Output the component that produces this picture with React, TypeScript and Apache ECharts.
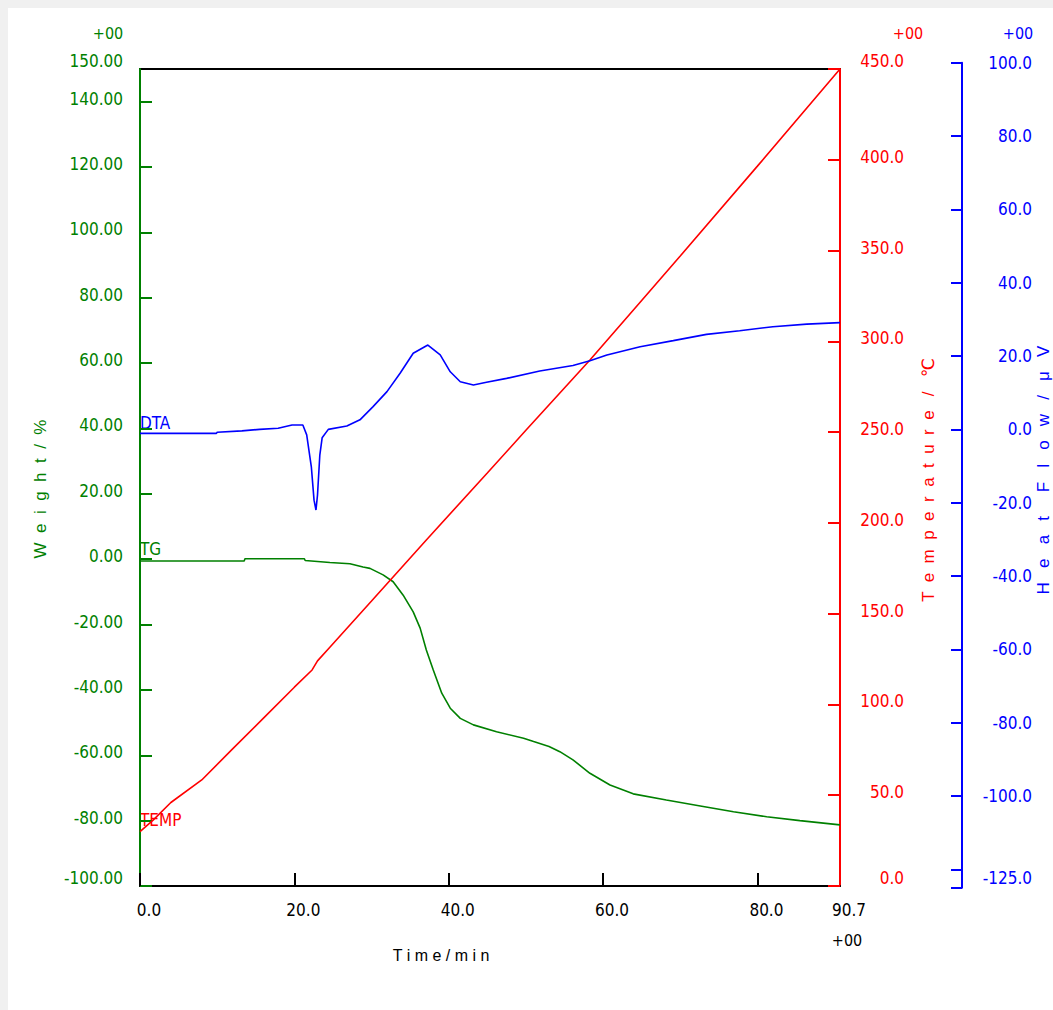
import React, { useEffect, useRef } from "react";
import * as echarts from "echarts";

// ---- Data ----
const TG_TIME = [0, 13.5, 13.6, 21.3, 21.4, 24.6, 27.2, 28.9, 29.8, 31.5, 32.8, 34.1, 35.4, 36.3, 37.1, 38.0, 39.1, 40.2, 41.5, 43.2, 46.2, 49.7, 51.0, 53.0, 54.4, 56.1, 58.3, 60.9, 63.9, 68.2, 72.6, 76.9, 81.2, 85.5, 90.7];
const TG_WEIGHT = [-0.55, -0.55, 0.15, 0.15, -0.4, -1.0, -1.4, -2.4, -2.8, -4.8, -6.9, -11.0, -16.1, -21.1, -27.8, -33.9, -41.0, -45.6, -48.7, -50.7, -52.8, -54.8, -55.8, -57.3, -58.9, -61.4, -65.5, -69.1, -71.8, -73.7, -75.5, -77.3, -78.8, -80.0, -81.3];

const TEMP_TIME = [0, 1.7, 4, 8, 12, 16, 20, 22.3, 23.0, 24.6, 30, 37.1, 45, 50, 58.3, 65, 70, 80, 90.7];
const TEMP_VALUE = [30, 36.3, 46, 58.4, 75.5, 92.5, 109.5, 119, 124, 131.5, 157, 190.6, 227.5, 251, 289.7, 322.5, 347, 396.5, 450];

const DTA_TIME = [0, 9.9, 10.0, 13.2, 15.5, 17.9, 19.7, 21.1, 21.6, 22.2, 22.55, 22.8, 23.0, 23.3, 23.6, 24.4, 26.8, 28.5, 30.2, 32.0, 33.7, 35.4, 37.3, 38.9, 40.2, 41.5, 43.2, 44.9, 47.5, 51.8, 56.1, 58.3, 60.5, 64.8, 69.1, 73.4, 77.7, 82.0, 86.4, 90.7];
const DTA_VALUE = [-1.1, -1.1, -0.8, -0.4, 0.0, 0.3, 1.2, 1.2, -1.5, -10.2, -19.3, -22.0, -17.9, -7.0, -2.3, 0.0, 0.9, 2.6, 6.2, 10.3, 15.3, 20.75, 23.0, 20.3, 15.7, 13.0, 12.1, 12.85, 13.9, 15.9, 17.4, 18.7, 20.3, 22.55, 24.2, 25.9, 26.9, 28.0, 28.7, 29.1];

const X_TICKS = [0, 20, 40, 60, 80];
const X_LABELS = [0, 20, 40, 60, 80, 90.7];
const WEIGHT_TICKS = [-100, -80, -60, -40, -20, 0, 20, 40, 60, 80, 100, 120, 140];
const WEIGHT_LABELS = [-100, -80, -60, -40, -20, 0, 20, 40, 60, 80, 100, 120, 140, 150];
const TEMP_TICKS = [0, 50, 100, 150, 200, 250, 300, 350, 400, 450];
const HF_TICKS = [-125, -120, -100, -80, -60, -40, -20, 0, 20, 40, 60, 80, 100];
const HF_LABELS = [-125, -100, -80, -60, -40, -20, 0, 20, 40, 60, 80, 100];

const GREEN = "#008000";
const RED = "#ff0000";
const BLUE = "#0000ff";
const FONT = "'DejaVu Sans Condensed', 'Liberation Sans', sans-serif";
const TITLE_FONT = "'Liberation Sans', 'DejaVu Sans', sans-serif";
const FS = 17;

const zip = (a: number[], b: number[]) => a.map((x, i) => [x, b[i]]);

function richFor(color: string) {
  return {
    n: { color, fontSize: FS, fontFamily: FONT, padding: [0, 0, 6, 0] },
    c: { color, fontSize: FS, fontFamily: FONT },
    e: { color, fontSize: FS, fontFamily: FONT, padding: [0, 0, 17, 0] },
    b: { color, fontSize: FS, fontFamily: FONT, padding: [0, 0, 20, 0] },
  };
}

export default function App() {
  const ref = useRef<HTMLDivElement>(null);

  useEffect(() => {
    document.body.style.margin = "0";
    document.body.style.overflow = "hidden";
    document.documentElement.style.overflow = "hidden";
    if (!ref.current) return;
    const chart = echarts.init(ref.current, null, { renderer: "svg" });

    const option: any = {
      animation: false,
      backgroundColor: "#ffffff",
      grid: [
        { left: 132, top: 61, width: 700, height: 817, show: true, borderColor: "#000", borderWidth: 2, backgroundColor: "transparent" },
        { left: 132, top: 54.7, width: 700, height: 825 },
      ],
      xAxis: [
        {
          type: "value",
          gridIndex: 0,
          min: 0,
          max: 90.7,
          axisLine: { show: true, onZero: false, lineStyle: { color: "#000", width: 2 } },
          axisTick: { show: true, inside: true, length: 13, customValues: X_TICKS, lineStyle: { color: "#000", width: 2 } },
          axisLabel: {
            customValues: X_LABELS,
            margin: 15,
            color: "#000",
            fontSize: FS,
            fontFamily: FONT,
            padding: [0, 0, 0, 18],
            formatter: (v: number) => v.toFixed(1),
          },
          splitLine: { show: false },
        },
        { type: "value", gridIndex: 1, min: 0, max: 90.7, show: false },
      ],
      yAxis: [
        {
          type: "value",
          gridIndex: 0,
          position: "left",
          min: -100,
          max: 150,
          axisLine: { show: true, onZero: false, lineStyle: { color: GREEN, width: 2 } },
          axisTick: { show: true, inside: true, length: 12, customValues: WEIGHT_TICKS, lineStyle: { color: GREEN, width: 2 } },
          axisLabel: {
            customValues: WEIGHT_LABELS,
            margin: 17,
            color: GREEN,
            fontSize: FS,
            fontFamily: FONT,
            formatter: (v: number) => (v === 150 || v === -100 ? `{e|${v.toFixed(2)}}` : `{n|${v.toFixed(2)}}`),
            rich: richFor(GREEN),
          },
          splitLine: { show: false },
        },
        {
          type: "value",
          gridIndex: 0,
          position: "right",
          min: 0,
          max: 450,
          axisLine: { show: true, onZero: false, lineStyle: { color: RED, width: 2 } },
          axisTick: { show: true, inside: true, length: 12, customValues: TEMP_TICKS, lineStyle: { color: RED, width: 2 } },
          axisLabel: {
            customValues: TEMP_TICKS,
            margin: 64,
            align: "right",
            color: RED,
            fontSize: FS,
            fontFamily: FONT,
            formatter: (v: number) => (v === 450 || v === 0 ? `{e|${v.toFixed(1)}}` : `{n|${v.toFixed(1)}}`),
            rich: richFor(RED),
          },
          splitLine: { show: false },
        },
        {
          type: "value",
          gridIndex: 1,
          position: "right",
          offset: 122,
          min: -125,
          max: 100,
          axisLine: { show: true, onZero: false, lineStyle: { color: BLUE, width: 2 } },
          axisTick: { show: true, inside: true, length: 11, customValues: HF_TICKS, lineStyle: { color: BLUE, width: 2 } },
          axisLabel: {
            customValues: HF_LABELS,
            margin: 70,
            align: "right",
            color: BLUE,
            fontSize: FS,
            fontFamily: FONT,
            formatter: (v: number) => (v === -125 ? `{b|${v.toFixed(1)}}` : `{c|${v.toFixed(1)}}`),
            rich: richFor(BLUE),
          },
          splitLine: { show: false },
        },
      ],
      series: [
        {
          name: "TG",
          type: "line",
          xAxisIndex: 0,
          yAxisIndex: 0,
          data: zip(TG_TIME, TG_WEIGHT),
          showSymbol: false,
          lineStyle: { color: GREEN, width: 1.6 },
          itemStyle: { color: GREEN },
        },
        {
          name: "TEMP",
          type: "line",
          xAxisIndex: 0,
          yAxisIndex: 1,
          data: zip(TEMP_TIME, TEMP_VALUE),
          showSymbol: false,
          lineStyle: { color: RED, width: 1.6 },
          itemStyle: { color: RED },
        },
        {
          name: "DTA",
          type: "line",
          xAxisIndex: 1,
          yAxisIndex: 2,
          data: zip(DTA_TIME, DTA_VALUE),
          showSymbol: false,
          lineStyle: { color: BLUE, width: 1.6 },
          itemStyle: { color: BLUE },
        },
      ],
      graphic: [
        { type: "text", x: 100, y: 25, style: { text: "+00", fill: GREEN, font: `16px ${FONT}`, align: "center", verticalAlign: "middle" } },
        { type: "text", x: 900, y: 25, style: { text: "+00", fill: RED, font: `16px ${FONT}`, align: "center", verticalAlign: "middle" } },
        { type: "text", x: 1010, y: 25, style: { text: "+00", fill: BLUE, font: `16px ${FONT}`, align: "center", verticalAlign: "middle" } },
        { type: "text", x: 839, y: 932, style: { text: "+00", fill: "#000", font: `16px ${FONT}`, align: "center", verticalAlign: "middle" } },
        { type: "text", x: 433, y: 947, style: { text: "T i m e / m i n", fill: "#000", font: `16px ${TITLE_FONT}`, align: "center", verticalAlign: "middle" } },
        { type: "text", x: 32, y: 481, rotation: Math.PI / 2, style: { text: "W  e  i  g  h  t  /  %", fill: GREEN, font: `17px ${TITLE_FONT}`, align: "center", verticalAlign: "middle" } },
        { type: "text", x: 920, y: 472, rotation: Math.PI / 2, style: { text: "T  e  m  p  e  r  a  t  u  r  e   /   ℃", fill: RED, font: `17px ${TITLE_FONT}`, align: "center", verticalAlign: "middle" } },
        { type: "text", x: 1035, y: 462, rotation: Math.PI / 2, style: { text: "H   e   a   t     F   l   o   w   /   μ   V", fill: BLUE, font: `17px ${TITLE_FONT}`, align: "center", verticalAlign: "middle" } },
        { type: "text", x: 132, y: 415, style: { text: "DTA", fill: BLUE, font: `${FS}px ${FONT}`, align: "left", verticalAlign: "middle" } },
        { type: "text", x: 132, y: 541, style: { text: "TG", fill: GREEN, font: `${FS}px ${FONT}`, align: "left", verticalAlign: "middle" } },
        { type: "text", x: 132, y: 812, style: { text: "TEMP", fill: RED, font: `${FS}px ${FONT}`, align: "left", verticalAlign: "middle" } },
      ],
    };

    chart.setOption(option);
    return () => chart.dispose();
  }, []);

  return (
    <div style={{ width: 1053, height: 1010, background: "#f0f0f0", position: "relative", overflow: "hidden" }}>
      <div ref={ref} style={{ position: "absolute", left: 8, top: 8, width: 1045, height: 1002, background: "#ffffff" }} />
    </div>
  );
}
